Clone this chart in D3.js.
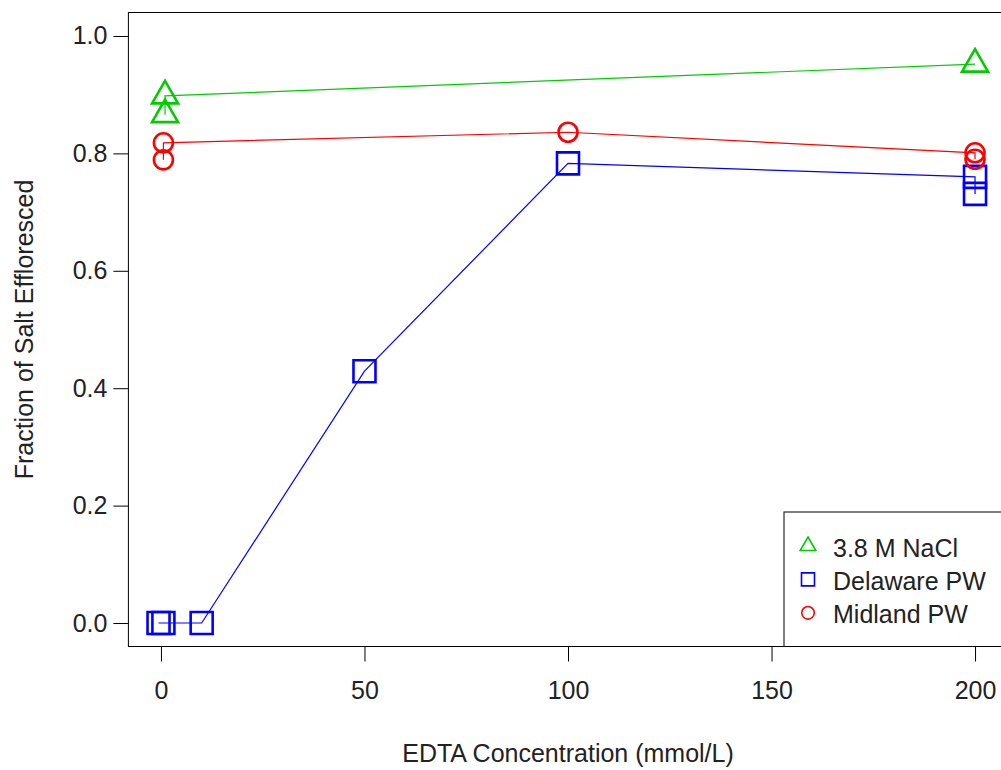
<!DOCTYPE html>
<html>
<head>
<meta charset="utf-8">
<script src="https://cdn.jsdelivr.net/npm/d3@7"></script>
<style>
  body { margin: 0; background: #fff; }
  text { font-family: "Liberation Sans", Arial, sans-serif; fill: #222; }
</style>
</head>
<body>
<div id="chart"></div>
<script>
// chart size and plot region (R style: 4% padding around data range)
const width = 1001;
const height = 770;
const plotLeft = 128.4, plotRight = 1007.6, plotTop = 12.5, plotBottom = 646.5;

// data
const xTicks = [0, 50, 100, 150, 200];
const yTicks = [0.0, 0.2, 0.4, 0.6, 0.8, 1.0];

const naclX = [1, 1, 200];
const naclY = [0.866, 0.898, 0.952];

const delawareX = [-0.6, 0.6, 10, 50, 100, 200, 200];
const delawareY = [0, 0, 0, 0.429, 0.783, 0.760, 0.731];

const midlandX = [0.6, 0.6, 100, 200, 200];
const midlandY = [0.789, 0.818, 0.836, 0.801, 0.790];

const seriesNames = ["3.8 M NaCl", "Delaware PW", "Midland PW"];

const svg = d3.select("#chart")
    .append("svg")
    .attr("width", width)
    .attr("height", height);

const x = d3.scaleLinear().domain([-8, 208]).range([plotLeft, plotRight]);
const y = d3.scaleLinear().domain([-0.04, 1.04]).range([plotBottom, plotTop]);

// box
svg.append("rect")
    .attr("x", plotLeft).attr("y", plotTop)
    .attr("width", plotRight - plotLeft).attr("height", plotBottom - plotTop)
    .attr("fill", "none").attr("stroke", "#000").attr("stroke-width", 1);

// axes
const xAxis = svg.append("g")
    .attr("transform", `translate(0,${plotBottom})`)
    .call(d3.axisBottom(x).tickValues(xTicks).tickSize(15).tickPadding(20).tickFormat(d3.format("d")));
const yAxis = svg.append("g")
    .attr("transform", `translate(${plotLeft},0)`)
    .call(d3.axisLeft(y).tickValues(yTicks).tickSize(15).tickPadding(6).tickFormat(d3.format(".1f")));
[xAxis, yAxis].forEach(a => {
    a.select(".domain").remove();
    a.selectAll("line").attr("stroke", "#000");
    a.selectAll("text").attr("font-size", 25).attr("fill", "#222")
        .style("font-family", "'Liberation Sans', Arial, sans-serif");
});

// axis titles
svg.append("text")
    .attr("x", (plotLeft + plotRight) / 2).attr("y", 762)
    .attr("text-anchor", "middle").attr("font-size", 25)
    .text("EDTA Concentration (mmol/L)");
svg.append("text")
    .attr("transform", `translate(33,${(plotTop + plotBottom) / 2}) rotate(-90)`)
    .attr("text-anchor", "middle").attr("font-size", 25)
    .text("Fraction of Salt Effloresced");

// marker shapes
function markerPath(shape, s) {
    if (shape === "triangle") {
        const r = s, w = s * 0.866;
        return `M0,${-r}L${w},${r / 2}L${-w},${r / 2}Z`;
    }
    if (shape === "square") {
        return `M${-s},${-s}H${s}V${s}H${-s}Z`;
    }
    return d3.arc()({innerRadius: 0, outerRadius: s, startAngle: 0, endAngle: 2 * Math.PI});
}

const series = [
    { xs: naclX, ys: naclY, color: "#00cc00", shape: "triangle", size: 15 },
    { xs: delawareX, ys: delawareY, color: "#0000ff", shape: "square", size: 11 },
    { xs: midlandX, ys: midlandY, color: "#ff0000", shape: "circle", size: 9.5 }
];

const line = d3.line().x(d => x(d[0])).y(d => y(d[1]));

series.forEach(s => {
    const pts = s.xs.map((v, i) => [v, s.ys[i]]);
    svg.append("path")
        .attr("d", line(pts))
        .attr("fill", "none").attr("stroke", s.color).attr("stroke-width", 1.2);
    svg.selectAll(null)
        .data(pts)
        .enter().append("path")
        .attr("transform", d => `translate(${x(d[0])},${y(d[1])})`)
        .attr("d", markerPath(s.shape, s.size))
        .attr("fill", "none").attr("stroke", s.color).attr("stroke-width", 2.6);
});

// legend (bottom right)
const lg = svg.append("g");
lg.append("rect")
    .attr("x", 784).attr("y", 512)
    .attr("width", plotRight - 784).attr("height", plotBottom - 512)
    .attr("fill", "#fff").attr("stroke", "#000").attr("stroke-width", 1);
const legendSize = [9, 6.5, 6.3];
seriesNames.forEach((name, i) => {
    const by = 556.5 + i * 33.4;
    lg.append("path")
        .attr("transform", `translate(808,${by - 10.5})`)
        .attr("d", markerPath(series[i].shape, legendSize[i]))
        .attr("fill", "none").attr("stroke", series[i].color).attr("stroke-width", 1.6);
    lg.append("text")
        .attr("x", 833).attr("y", by)
        .attr("font-size", 25)
        .text(name);
});
</script>
</body>
</html>
